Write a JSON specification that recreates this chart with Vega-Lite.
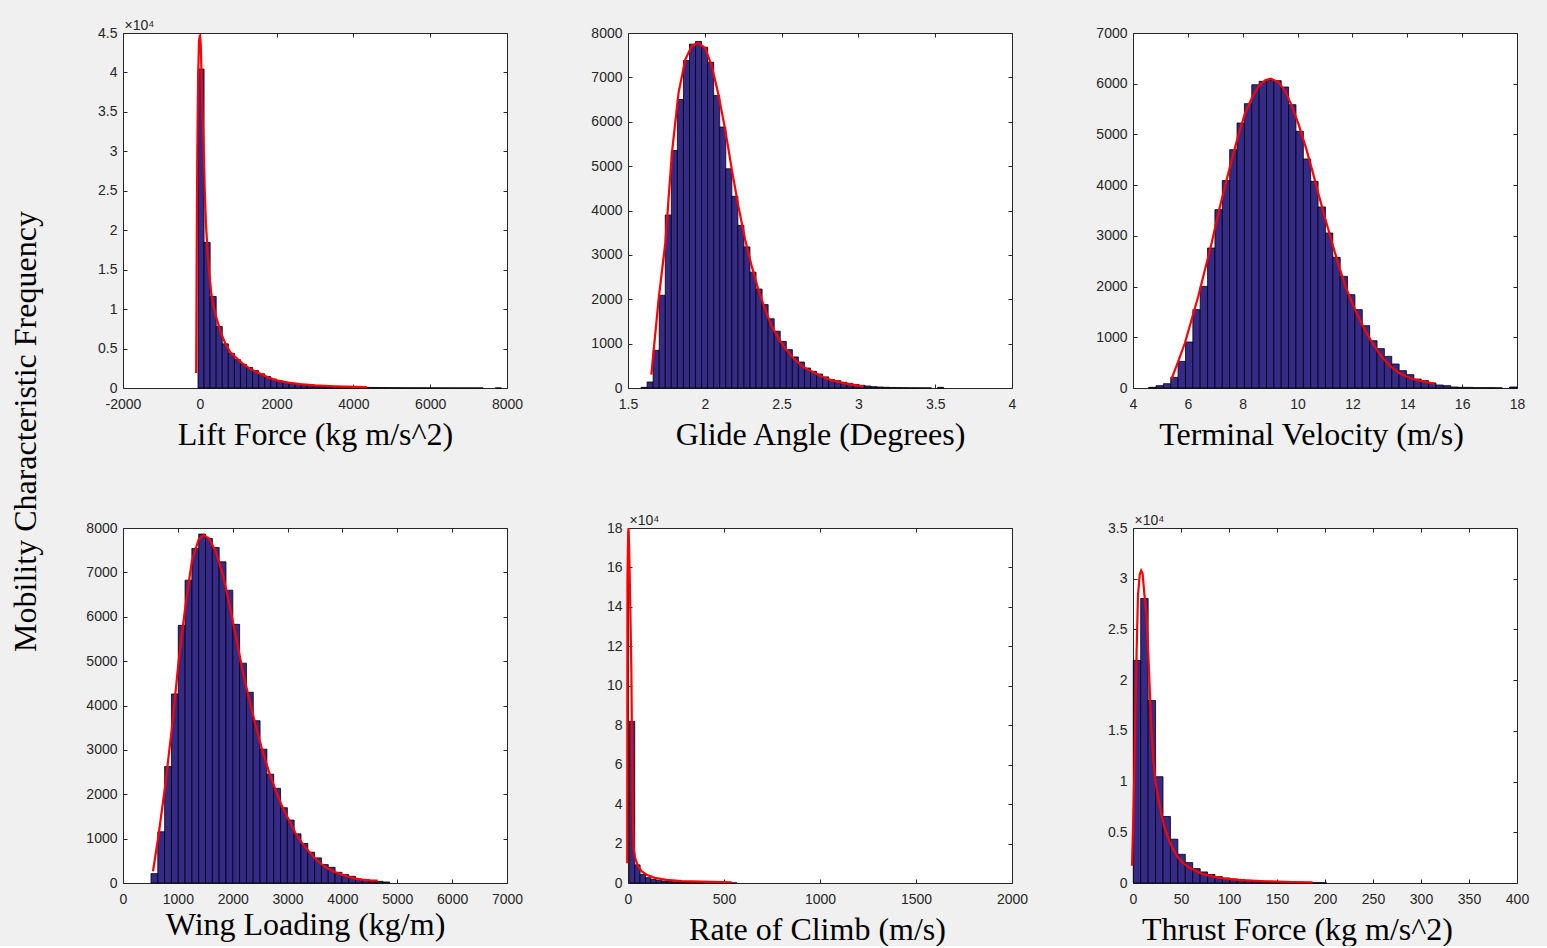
{
  "$schema": "https://vega.github.io/schema/vega-lite/v6.json",
  "background": "#f0f0f0",
  "padding": {"left": 10, "top": 17, "right": 19, "bottom": 0},
  "title": {"text": "Mobility Characteristic Frequency", "orient": "left", "anchor": "middle", "font": "Liberation Serif", "fontSize": 32, "fontWeight": "normal", "color": "#000000", "offset": 42, "dx": 50},
  "config": {
    "view": {"fill": "#ffffff", "stroke": "#262626", "strokeWidth": 1},
    "axis": {"domain": false, "grid": false, "ticks": true, "tickSize": 4, "offset": -4, "tickColor": "#262626", "tickWidth": 1, "labelFont": "Liberation Sans", "labelFontSize": 14, "labelColor": "#262626", "labelFlush": false, "labelOverlap": false, "labelPadding": 6, "titleFont": "Liberation Serif", "titleFontSize": 32, "titleFontWeight": "normal", "titleColor": "#000000"},
    "axisBottom": {"labelPadding": 9}
  },
  "columns": 3,
  "bounds": "flush",
  "spacing": {"row": 140, "column": 121},
  "datasets": {
    "lift_bars": [
      {"bin_start": -47, "bin_end": 111, "count": 40430}, {"bin_start": 111, "bin_end": 269, "count": 18460}, {"bin_start": 269, "bin_end": 427, "count": 11600}, {"bin_start": 427, "bin_end": 585, "count": 7800}, {"bin_start": 585, "bin_end": 743, "count": 5600}, {"bin_start": 743, "bin_end": 901, "count": 4400}, {"bin_start": 901, "bin_end": 1059, "count": 3600}, {"bin_start": 1059, "bin_end": 1217, "count": 3000}, {"bin_start": 1217, "bin_end": 1375, "count": 2600}, {"bin_start": 1375, "bin_end": 1533, "count": 2200}, {"bin_start": 1533, "bin_end": 1691, "count": 1800}, {"bin_start": 1691, "bin_end": 1849, "count": 1450}, {"bin_start": 1849, "bin_end": 2007, "count": 1120}, {"bin_start": 2007, "bin_end": 2165, "count": 900}, {"bin_start": 2165, "bin_end": 2323, "count": 730}, {"bin_start": 2323, "bin_end": 2481, "count": 600}, {"bin_start": 2481, "bin_end": 2639, "count": 490}, {"bin_start": 2639, "bin_end": 2797, "count": 405}, {"bin_start": 2797, "bin_end": 2955, "count": 340}, {"bin_start": 2955, "bin_end": 3113, "count": 285}, {"bin_start": 3113, "bin_end": 3271, "count": 240}, {"bin_start": 3271, "bin_end": 3429, "count": 205}, {"bin_start": 3429, "bin_end": 3587, "count": 175}, {"bin_start": 3587, "bin_end": 3745, "count": 150}, {"bin_start": 3745, "bin_end": 3903, "count": 130}, {"bin_start": 3903, "bin_end": 4061, "count": 112}, {"bin_start": 4061, "bin_end": 4219, "count": 97}, {"bin_start": 4219, "bin_end": 4377, "count": 85}, {"bin_start": 4377, "bin_end": 4535, "count": 74}, {"bin_start": 4535, "bin_end": 4693, "count": 64}, {"bin_start": 4693, "bin_end": 4851, "count": 56}, {"bin_start": 4851, "bin_end": 5009, "count": 49}, {"bin_start": 5009, "bin_end": 5167, "count": 43}, {"bin_start": 5167, "bin_end": 5325, "count": 37}, {"bin_start": 5325, "bin_end": 5483, "count": 32}, {"bin_start": 5483, "bin_end": 5641, "count": 28}, {"bin_start": 5641, "bin_end": 5799, "count": 24}, {"bin_start": 5799, "bin_end": 5957, "count": 21}, {"bin_start": 5957, "bin_end": 6115, "count": 18}, {"bin_start": 6115, "bin_end": 6273, "count": 16}, {"bin_start": 6273, "bin_end": 6431, "count": 14}, {"bin_start": 6431, "bin_end": 6589, "count": 12}, {"bin_start": 6589, "bin_end": 6747, "count": 10}, {"bin_start": 6747, "bin_end": 6905, "count": 6}, {"bin_start": 6905, "bin_end": 7063, "count": 8}, {"bin_start": 7063, "bin_end": 7221, "count": 7}, {"bin_start": 7221, "bin_end": 7379, "count": 6}, {"bin_start": 7695, "bin_end": 7853, "count": 5}
    ],
    "lift_fit": [
      {"value": -95, "fit": 1900}, {"value": -88, "fit": 9000}, {"value": -80, "fit": 18000}, {"value": -65, "fit": 30000}, {"value": -45, "fit": 39000}, {"value": -20, "fit": 44000}, {"value": 5, "fit": 44800}, {"value": 25, "fit": 43500}, {"value": 50, "fit": 39000}, {"value": 75, "fit": 34000}, {"value": 100, "fit": 31000}, {"value": 130, "fit": 25000}, {"value": 160, "fit": 20800}, {"value": 200, "fit": 17500}, {"value": 250, "fit": 14300}, {"value": 300, "fit": 12000}, {"value": 350, "fit": 10500}, {"value": 450, "fit": 8600}, {"value": 550, "fit": 7000}, {"value": 667, "fit": 5600}, {"value": 800, "fit": 4500}, {"value": 1000, "fit": 3600}, {"value": 1100, "fit": 3150}, {"value": 1300, "fit": 2450}, {"value": 1533, "fit": 1900}, {"value": 1800, "fit": 1300}, {"value": 2000, "fit": 970}, {"value": 2300, "fit": 690}, {"value": 2600, "fit": 500}, {"value": 3000, "fit": 330}, {"value": 3500, "fit": 210}, {"value": 4000, "fit": 140}, {"value": 4350, "fit": 110}
    ],
    "glide_bars": [
      {"bin_start": 1.585, "bin_end": 1.6244, "count": 15}, {"bin_start": 1.6244, "bin_end": 1.6638, "count": 135}, {"bin_start": 1.6638, "bin_end": 1.7032, "count": 850}, {"bin_start": 1.7032, "bin_end": 1.7426, "count": 2090}, {"bin_start": 1.7426, "bin_end": 1.782, "count": 3900}, {"bin_start": 1.782, "bin_end": 1.8214, "count": 5350}, {"bin_start": 1.8214, "bin_end": 1.8608, "count": 6500}, {"bin_start": 1.8608, "bin_end": 1.9002, "count": 7380}, {"bin_start": 1.9002, "bin_end": 1.9396, "count": 7750}, {"bin_start": 1.9396, "bin_end": 1.979, "count": 7810}, {"bin_start": 1.979, "bin_end": 2.0184, "count": 7680}, {"bin_start": 2.0184, "bin_end": 2.0578, "count": 7340}, {"bin_start": 2.0578, "bin_end": 2.0972, "count": 6590}, {"bin_start": 2.0972, "bin_end": 2.1366, "count": 5880}, {"bin_start": 2.1366, "bin_end": 2.176, "count": 4940}, {"bin_start": 2.176, "bin_end": 2.2154, "count": 4320}, {"bin_start": 2.2154, "bin_end": 2.2548, "count": 3665}, {"bin_start": 2.2548, "bin_end": 2.2942, "count": 3180}, {"bin_start": 2.2942, "bin_end": 2.3336, "count": 2610}, {"bin_start": 2.3336, "bin_end": 2.373, "count": 2230}, {"bin_start": 2.373, "bin_end": 2.4124, "count": 1880}, {"bin_start": 2.4124, "bin_end": 2.4518, "count": 1560}, {"bin_start": 2.4518, "bin_end": 2.4912, "count": 1280}, {"bin_start": 2.4912, "bin_end": 2.5306, "count": 1050}, {"bin_start": 2.5306, "bin_end": 2.57, "count": 865}, {"bin_start": 2.57, "bin_end": 2.6094, "count": 700}, {"bin_start": 2.6094, "bin_end": 2.6488, "count": 585}, {"bin_start": 2.6488, "bin_end": 2.6882, "count": 450}, {"bin_start": 2.6882, "bin_end": 2.7276, "count": 375}, {"bin_start": 2.7276, "bin_end": 2.767, "count": 315}, {"bin_start": 2.767, "bin_end": 2.8064, "count": 250}, {"bin_start": 2.8064, "bin_end": 2.8458, "count": 190}, {"bin_start": 2.8458, "bin_end": 2.8852, "count": 165}, {"bin_start": 2.8852, "bin_end": 2.9246, "count": 130}, {"bin_start": 2.9246, "bin_end": 2.964, "count": 105}, {"bin_start": 2.964, "bin_end": 3.0034, "count": 80}, {"bin_start": 3.0034, "bin_end": 3.0428, "count": 60}, {"bin_start": 3.0428, "bin_end": 3.0822, "count": 45}, {"bin_start": 3.0822, "bin_end": 3.1216, "count": 30}, {"bin_start": 3.1216, "bin_end": 3.161, "count": 22}, {"bin_start": 3.161, "bin_end": 3.2004, "count": 16}, {"bin_start": 3.2004, "bin_end": 3.2398, "count": 12}, {"bin_start": 3.2398, "bin_end": 3.2792, "count": 9}, {"bin_start": 3.2792, "bin_end": 3.3186, "count": 7}, {"bin_start": 3.3186, "bin_end": 3.358, "count": 5}, {"bin_start": 3.358, "bin_end": 3.3974, "count": 4}, {"bin_start": 3.3974, "bin_end": 3.4368, "count": 3}, {"bin_start": 3.4368, "bin_end": 3.4762, "count": 2}, {"bin_start": 3.5156, "bin_end": 3.555, "count": 15}
    ],
    "glide_fit": [
      {"value": 1.652, "fit": 300}, {"value": 1.699, "fit": 1990}, {"value": 1.743, "fit": 3270}, {"value": 1.786, "fit": 5300}, {"value": 1.829, "fit": 6650}, {"value": 1.873, "fit": 7400}, {"value": 1.916, "fit": 7715}, {"value": 1.959, "fit": 7775}, {"value": 2.003, "fit": 7660}, {"value": 2.046, "fit": 7250}, {"value": 2.089, "fit": 6610}, {"value": 2.133, "fit": 5820}, {"value": 2.176, "fit": 4920}, {"value": 2.219, "fit": 4090}, {"value": 2.263, "fit": 3340}, {"value": 2.306, "fit": 2740}, {"value": 2.349, "fit": 2215}, {"value": 2.393, "fit": 1765}, {"value": 2.436, "fit": 1390}, {"value": 2.479, "fit": 1125}, {"value": 2.523, "fit": 900}, {"value": 2.566, "fit": 715}, {"value": 2.609, "fit": 565}, {"value": 2.653, "fit": 450}, {"value": 2.696, "fit": 375}, {"value": 2.739, "fit": 300}, {"value": 2.783, "fit": 225}, {"value": 2.826, "fit": 173}, {"value": 2.869, "fit": 135}, {"value": 2.913, "fit": 105}, {"value": 2.956, "fit": 75}, {"value": 2.999, "fit": 53}, {"value": 3.032, "fit": 38}
    ],
    "velocity_bars": [
      {"bin_start": 4.57, "bin_end": 4.839, "count": 13}, {"bin_start": 4.839, "bin_end": 5.107, "count": 46}, {"bin_start": 5.107, "bin_end": 5.376, "count": 85}, {"bin_start": 5.376, "bin_end": 5.644, "count": 210}, {"bin_start": 5.644, "bin_end": 5.913, "count": 525}, {"bin_start": 5.913, "bin_end": 6.182, "count": 907}, {"bin_start": 6.182, "bin_end": 6.45, "count": 1545}, {"bin_start": 6.45, "bin_end": 6.719, "count": 2005}, {"bin_start": 6.719, "bin_end": 6.987, "count": 2760}, {"bin_start": 6.987, "bin_end": 7.256, "count": 3517}, {"bin_start": 7.256, "bin_end": 7.525, "count": 4090}, {"bin_start": 7.525, "bin_end": 7.793, "count": 4700}, {"bin_start": 7.793, "bin_end": 8.062, "count": 5225}, {"bin_start": 8.062, "bin_end": 8.33, "count": 5607}, {"bin_start": 8.33, "bin_end": 8.599, "count": 5980}, {"bin_start": 8.599, "bin_end": 8.868, "count": 6047}, {"bin_start": 8.868, "bin_end": 9.136, "count": 6067}, {"bin_start": 9.136, "bin_end": 9.405, "count": 6060}, {"bin_start": 9.405, "bin_end": 9.673, "count": 5935}, {"bin_start": 9.673, "bin_end": 9.942, "count": 5587}, {"bin_start": 9.942, "bin_end": 10.211, "count": 5061}, {"bin_start": 10.211, "bin_end": 10.479, "count": 4516}, {"bin_start": 10.479, "bin_end": 10.748, "count": 4075}, {"bin_start": 10.748, "bin_end": 11.016, "count": 3570}, {"bin_start": 11.016, "bin_end": 11.285, "count": 3056}, {"bin_start": 11.285, "bin_end": 11.554, "count": 2577}, {"bin_start": 11.554, "bin_end": 11.822, "count": 2202}, {"bin_start": 11.822, "bin_end": 12.091, "count": 1840}, {"bin_start": 12.091, "bin_end": 12.359, "count": 1545}, {"bin_start": 12.359, "bin_end": 12.628, "count": 1229}, {"bin_start": 12.628, "bin_end": 12.897, "count": 933}, {"bin_start": 12.897, "bin_end": 13.165, "count": 776}, {"bin_start": 13.165, "bin_end": 13.434, "count": 624}, {"bin_start": 13.434, "bin_end": 13.702, "count": 473}, {"bin_start": 13.702, "bin_end": 13.971, "count": 342}, {"bin_start": 13.971, "bin_end": 14.24, "count": 263}, {"bin_start": 14.24, "bin_end": 14.508, "count": 177}, {"bin_start": 14.508, "bin_end": 14.777, "count": 145}, {"bin_start": 14.777, "bin_end": 15.045, "count": 99}, {"bin_start": 15.045, "bin_end": 15.314, "count": 59}, {"bin_start": 15.314, "bin_end": 15.583, "count": 46}, {"bin_start": 15.583, "bin_end": 15.851, "count": 20}, {"bin_start": 15.851, "bin_end": 16.12, "count": 13}, {"bin_start": 16.12, "bin_end": 16.388, "count": 13}, {"bin_start": 16.388, "bin_end": 16.657, "count": 7}, {"bin_start": 16.657, "bin_end": 16.926, "count": 7}, {"bin_start": 16.926, "bin_end": 17.194, "count": 7}, {"bin_start": 17.194, "bin_end": 17.463, "count": 3}, {"bin_start": 17.731, "bin_end": 18.0, "count": 20}
    ],
    "velocity_fit": [
      {"value": 5.404, "fit": 177}, {"value": 5.648, "fit": 526}, {"value": 5.892, "fit": 887}, {"value": 6.136, "fit": 1347}, {"value": 6.38, "fit": 1808}, {"value": 6.624, "fit": 2333}, {"value": 6.868, "fit": 2859}, {"value": 7.112, "fit": 3451}, {"value": 7.356, "fit": 3977}, {"value": 7.6, "fit": 4503}, {"value": 7.845, "fit": 4995}, {"value": 8.089, "fit": 5423}, {"value": 8.333, "fit": 5718}, {"value": 8.577, "fit": 5948}, {"value": 8.821, "fit": 6067}, {"value": 9.029, "fit": 6100}, {"value": 9.31, "fit": 6027}, {"value": 9.554, "fit": 5850}, {"value": 9.798, "fit": 5554}, {"value": 10.04, "fit": 5193}, {"value": 10.29, "fit": 4765}, {"value": 10.53, "fit": 4305}, {"value": 10.77, "fit": 3812}, {"value": 11.02, "fit": 3319}, {"value": 11.26, "fit": 2859}, {"value": 11.51, "fit": 2399}, {"value": 11.75, "fit": 2005}, {"value": 11.99, "fit": 1676}, {"value": 12.24, "fit": 1380}, {"value": 12.48, "fit": 1117}, {"value": 12.73, "fit": 887}, {"value": 12.97, "fit": 690}, {"value": 13.21, "fit": 526}, {"value": 13.46, "fit": 394}, {"value": 13.7, "fit": 296}, {"value": 13.95, "fit": 230}, {"value": 14.19, "fit": 177}, {"value": 14.44, "fit": 145}, {"value": 14.68, "fit": 118}, {"value": 14.98, "fit": 85}
    ],
    "wing_bars": [
      {"bin_start": 510, "bin_end": 634.3, "count": 211}, {"bin_start": 634.3, "bin_end": 758.6, "count": 1154}, {"bin_start": 758.6, "bin_end": 882.9, "count": 2624}, {"bin_start": 882.9, "bin_end": 1007.2, "count": 4260}, {"bin_start": 1007.2, "bin_end": 1131.5, "count": 5806}, {"bin_start": 1131.5, "bin_end": 1255.8, "count": 6824}, {"bin_start": 1255.8, "bin_end": 1380.1, "count": 7540}, {"bin_start": 1380.1, "bin_end": 1504.4, "count": 7864}, {"bin_start": 1504.4, "bin_end": 1628.7, "count": 7766}, {"bin_start": 1628.7, "bin_end": 1753, "count": 7562}, {"bin_start": 1753, "bin_end": 1877.3, "count": 7238}, {"bin_start": 1877.3, "bin_end": 2001.6, "count": 6598}, {"bin_start": 2001.6, "bin_end": 2125.9, "count": 5829}, {"bin_start": 2125.9, "bin_end": 2250.2, "count": 4954}, {"bin_start": 2250.2, "bin_end": 2374.5, "count": 4298}, {"bin_start": 2374.5, "bin_end": 2498.8, "count": 3657}, {"bin_start": 2498.8, "bin_end": 2623.1, "count": 3016}, {"bin_start": 2623.1, "bin_end": 2747.4, "count": 2451}, {"bin_start": 2747.4, "bin_end": 2871.7, "count": 2134}, {"bin_start": 2871.7, "bin_end": 2996, "count": 1697}, {"bin_start": 2996, "bin_end": 3120.3, "count": 1418}, {"bin_start": 3120.3, "bin_end": 3244.6, "count": 1108}, {"bin_start": 3244.6, "bin_end": 3368.9, "count": 890}, {"bin_start": 3368.9, "bin_end": 3493.2, "count": 694}, {"bin_start": 3493.2, "bin_end": 3617.5, "count": 566}, {"bin_start": 3617.5, "bin_end": 3741.8, "count": 415}, {"bin_start": 3741.8, "bin_end": 3866.1, "count": 354}, {"bin_start": 3866.1, "bin_end": 3990.4, "count": 241}, {"bin_start": 3990.4, "bin_end": 4114.7, "count": 189}, {"bin_start": 4114.7, "bin_end": 4239, "count": 151}, {"bin_start": 4239, "bin_end": 4363.3, "count": 90}, {"bin_start": 4363.3, "bin_end": 4487.6, "count": 68}, {"bin_start": 4487.6, "bin_end": 4611.9, "count": 53}, {"bin_start": 4611.9, "bin_end": 4736.2, "count": 38}, {"bin_start": 4736.2, "bin_end": 4860.5, "count": 23}
    ],
    "wing_fit": [
      {"value": 547, "fit": 264}, {"value": 650, "fit": 1093}, {"value": 772, "fit": 2224}, {"value": 893, "fit": 3506}, {"value": 1015, "fit": 5014}, {"value": 1136, "fit": 6220}, {"value": 1258, "fit": 7276}, {"value": 1379, "fit": 7744}, {"value": 1470, "fit": 7842}, {"value": 1562, "fit": 7766}, {"value": 1683, "fit": 7502}, {"value": 1805, "fit": 7012}, {"value": 1926, "fit": 6371}, {"value": 2048, "fit": 5617}, {"value": 2169, "fit": 4863}, {"value": 2291, "fit": 4185}, {"value": 2412, "fit": 3581}, {"value": 2534, "fit": 3016}, {"value": 2655, "fit": 2526}, {"value": 2777, "fit": 2111}, {"value": 2899, "fit": 1734}, {"value": 3020, "fit": 1433}, {"value": 3142, "fit": 1131}, {"value": 3263, "fit": 905}, {"value": 3385, "fit": 716}, {"value": 3506, "fit": 550}, {"value": 3628, "fit": 415}, {"value": 3749, "fit": 317}, {"value": 3871, "fit": 241}, {"value": 3992, "fit": 189}, {"value": 4114, "fit": 136}, {"value": 4235, "fit": 98}, {"value": 4357, "fit": 75}, {"value": 4509, "fit": 60}, {"value": 4642, "fit": 53}
    ],
    "climb_bars": [
      {"bin_start": 7, "bin_end": 35, "count": 82000}, {"bin_start": 35, "bin_end": 63, "count": 9200}, {"bin_start": 63, "bin_end": 91, "count": 4300}, {"bin_start": 91, "bin_end": 119, "count": 2700}, {"bin_start": 119, "bin_end": 147, "count": 1850}, {"bin_start": 147, "bin_end": 175, "count": 1350}, {"bin_start": 175, "bin_end": 203, "count": 1000}, {"bin_start": 203, "bin_end": 231, "count": 760}, {"bin_start": 231, "bin_end": 259, "count": 590}, {"bin_start": 259, "bin_end": 287, "count": 460}, {"bin_start": 287, "bin_end": 315, "count": 370}, {"bin_start": 315, "bin_end": 343, "count": 300}, {"bin_start": 343, "bin_end": 371, "count": 240}, {"bin_start": 371, "bin_end": 399, "count": 195}, {"bin_start": 399, "bin_end": 427, "count": 160}, {"bin_start": 427, "bin_end": 455, "count": 130}, {"bin_start": 455, "bin_end": 483, "count": 105}, {"bin_start": 483, "bin_end": 511, "count": 85}, {"bin_start": 511, "bin_end": 539, "count": 70}, {"bin_start": 539, "bin_end": 567, "count": 55}
    ],
    "climb_fit": [
      {"value": -4, "fit": 10000}, {"value": -3, "fit": 153000}, {"value": 1, "fit": 178000}, {"value": 3, "fit": 180000}, {"value": 6, "fit": 170000}, {"value": 10, "fit": 150000}, {"value": 14, "fit": 128000}, {"value": 17.5, "fit": 108000}, {"value": 20, "fit": 80000}, {"value": 23, "fit": 50000}, {"value": 26, "fit": 30000}, {"value": 30, "fit": 17000}, {"value": 38, "fit": 12500}, {"value": 50, "fit": 9000}, {"value": 70, "fit": 6000}, {"value": 100, "fit": 4000}, {"value": 140, "fit": 2600}, {"value": 200, "fit": 1600}, {"value": 280, "fit": 1000}, {"value": 380, "fit": 650}, {"value": 540, "fit": 380}
    ],
    "thrust_bars": [
      {"bin_start": 0.3, "bin_end": 8.04, "count": 21950}, {"bin_start": 8.04, "bin_end": 15.78, "count": 28050}, {"bin_start": 15.78, "bin_end": 23.52, "count": 17990}, {"bin_start": 23.52, "bin_end": 31.26, "count": 10480}, {"bin_start": 31.26, "bin_end": 39.0, "count": 6560}, {"bin_start": 39.0, "bin_end": 46.74, "count": 4320}, {"bin_start": 46.74, "bin_end": 54.48, "count": 2830}, {"bin_start": 54.48, "bin_end": 62.22, "count": 2010}, {"bin_start": 62.22, "bin_end": 69.96, "count": 1420}, {"bin_start": 69.96, "bin_end": 77.7, "count": 1090}, {"bin_start": 77.7, "bin_end": 85.44, "count": 830}, {"bin_start": 85.44, "bin_end": 93.18, "count": 630}, {"bin_start": 93.18, "bin_end": 100.92, "count": 495}, {"bin_start": 100.92, "bin_end": 108.66, "count": 395}, {"bin_start": 108.66, "bin_end": 116.4, "count": 330}, {"bin_start": 116.4, "bin_end": 124.14, "count": 260}, {"bin_start": 124.14, "bin_end": 131.88, "count": 200}, {"bin_start": 131.88, "bin_end": 139.62, "count": 165}, {"bin_start": 139.62, "bin_end": 147.36, "count": 130}, {"bin_start": 147.36, "bin_end": 155.1, "count": 105}, {"bin_start": 155.1, "bin_end": 162.84, "count": 85}, {"bin_start": 162.84, "bin_end": 170.58, "count": 70}, {"bin_start": 170.58, "bin_end": 178.32, "count": 55}, {"bin_start": 178.32, "bin_end": 186.06, "count": 45}, {"bin_start": 186.06, "bin_end": 193.8, "count": 36}, {"bin_start": 193.8, "bin_end": 201.54, "count": 30}
    ],
    "thrust_fit": [
      {"value": -1, "fit": 1700}, {"value": 0, "fit": 5300}, {"value": 1.2, "fit": 10000}, {"value": 2.4, "fit": 16400}, {"value": 3.8, "fit": 23000}, {"value": 5.2, "fit": 28400}, {"value": 7, "fit": 30400}, {"value": 8.5, "fit": 30800}, {"value": 10, "fit": 30500}, {"value": 11.8, "fit": 28500}, {"value": 14, "fit": 26500}, {"value": 16, "fit": 22500}, {"value": 17.5, "fit": 19000}, {"value": 19, "fit": 15500}, {"value": 21, "fit": 12300}, {"value": 23.5, "fit": 10000}, {"value": 26.2, "fit": 8400}, {"value": 30, "fit": 6600}, {"value": 33.1, "fit": 5400}, {"value": 38, "fit": 4100}, {"value": 42, "fit": 3300}, {"value": 47, "fit": 2500}, {"value": 52, "fit": 2000}, {"value": 58, "fit": 1550}, {"value": 65, "fit": 1200}, {"value": 72, "fit": 900}, {"value": 82, "fit": 650}, {"value": 96, "fit": 430}, {"value": 113, "fit": 280}, {"value": 138, "fit": 170}, {"value": 166, "fit": 100}, {"value": 187, "fit": 66}
    ]
  },
  "concat": [
    {
      "width": 384, "height": 355,
      "layer": [
        {"data": {"name": "lift_bars"}, "mark": {"type": "bar", "fill": "#352a87", "stroke": "#000000", "strokeWidth": 0.8},
         "encoding": {
           "x": {"field": "bin_start", "type": "quantitative", "scale": {"domain": [-2000, 8000], "nice": false, "zero": false}, "axis": {"values": [-2000, 0, 2000, 4000, 6000, 8000], "labelExpr": "'' + datum.value", "title": "Lift Force (kg m/s^2)", "titleX": 192, "titleY": 60, "titleAlign": "center", "titleBaseline": "alphabetic"}},
           "x2": {"field": "bin_end"},
           "y": {"field": "count", "type": "quantitative", "scale": {"domain": [0, 45000], "nice": false}, "axis": {"values": [0, 5000, 10000, 15000, 20000, 25000, 30000, 35000, 40000, 45000], "labelExpr": "'' + datum.value / 10000", "title": "×10⁴", "titleAngle": 0, "titleX": -3, "titleY": -4, "titleAlign": "left", "titleBaseline": "alphabetic", "titleFont": "Liberation Sans", "titleFontSize": 14, "titleColor": "#262626"}},
           "y2": {"datum": 0}
         }},
        {"data": {"name": "lift_fit"}, "mark": {"type": "line", "stroke": "#ff0000", "strokeWidth": 2.2},
         "encoding": {
           "x": {"field": "value", "type": "quantitative", "scale": {"domain": [-2000, 8000], "nice": false, "zero": false}, "axis": {"orient": "top", "values": [-2000, 0, 2000, 4000, 6000, 8000], "labels": false, "title": null}},
           "y": {"field": "fit", "type": "quantitative", "scale": {"domain": [0, 45000], "nice": false}, "axis": {"orient": "right", "values": [0, 5000, 10000, 15000, 20000, 25000, 30000, 35000, 40000, 45000], "labels": false, "title": null}}
         }}
      ],
      "resolve": {"axis": {"x": "independent", "y": "independent"}}
    },
    {
      "width": 384, "height": 355,
      "layer": [
        {"data": {"name": "glide_bars"}, "mark": {"type": "bar", "fill": "#352a87", "stroke": "#000000", "strokeWidth": 0.8},
         "encoding": {
           "x": {"field": "bin_start", "type": "quantitative", "scale": {"domain": [1.5, 4], "nice": false, "zero": false}, "axis": {"values": [1.5, 2, 2.5, 3, 3.5, 4], "labelExpr": "'' + datum.value", "title": "Glide Angle (Degrees)", "titleX": 192, "titleY": 60, "titleAlign": "center", "titleBaseline": "alphabetic"}},
           "x2": {"field": "bin_end"},
           "y": {"field": "count", "type": "quantitative", "scale": {"domain": [0, 8000], "nice": false}, "axis": {"values": [0, 1000, 2000, 3000, 4000, 5000, 6000, 7000, 8000], "labelExpr": "'' + datum.value", "title": null}},
           "y2": {"datum": 0}
         }},
        {"data": {"name": "glide_fit"}, "mark": {"type": "line", "stroke": "#ff0000", "strokeWidth": 2.2},
         "encoding": {
           "x": {"field": "value", "type": "quantitative", "scale": {"domain": [1.5, 4], "nice": false, "zero": false}, "axis": {"orient": "top", "values": [1.5, 2, 2.5, 3, 3.5, 4], "labels": false, "title": null}},
           "y": {"field": "fit", "type": "quantitative", "scale": {"domain": [0, 8000], "nice": false}, "axis": {"orient": "right", "values": [0, 1000, 2000, 3000, 4000, 5000, 6000, 7000, 8000], "labels": false, "title": null}}
         }}
      ],
      "resolve": {"axis": {"x": "independent", "y": "independent"}}
    },
    {
      "width": 384, "height": 355,
      "layer": [
        {"data": {"name": "velocity_bars"}, "mark": {"type": "bar", "fill": "#352a87", "stroke": "#000000", "strokeWidth": 0.8},
         "encoding": {
           "x": {"field": "bin_start", "type": "quantitative", "scale": {"domain": [4, 18], "nice": false, "zero": false}, "axis": {"values": [4, 6, 8, 10, 12, 14, 16, 18], "labelExpr": "'' + datum.value", "title": "Terminal Velocity (m/s)", "titleX": 178, "titleY": 60, "titleAlign": "center", "titleBaseline": "alphabetic"}},
           "x2": {"field": "bin_end"},
           "y": {"field": "count", "type": "quantitative", "scale": {"domain": [0, 7000], "nice": false}, "axis": {"values": [0, 1000, 2000, 3000, 4000, 5000, 6000, 7000], "labelExpr": "'' + datum.value", "title": null}},
           "y2": {"datum": 0}
         }},
        {"data": {"name": "velocity_fit"}, "mark": {"type": "line", "stroke": "#ff0000", "strokeWidth": 2.2},
         "encoding": {
           "x": {"field": "value", "type": "quantitative", "scale": {"domain": [4, 18], "nice": false, "zero": false}, "axis": {"orient": "top", "values": [4, 6, 8, 10, 12, 14, 16, 18], "labels": false, "title": null}},
           "y": {"field": "fit", "type": "quantitative", "scale": {"domain": [0, 7000], "nice": false}, "axis": {"orient": "right", "values": [0, 1000, 2000, 3000, 4000, 5000, 6000, 7000], "labels": false, "title": null}}
         }}
      ],
      "resolve": {"axis": {"x": "independent", "y": "independent"}}
    },
    {
      "width": 384, "height": 355,
      "layer": [
        {"data": {"name": "wing_bars"}, "mark": {"type": "bar", "fill": "#352a87", "stroke": "#000000", "strokeWidth": 0.8},
         "encoding": {
           "x": {"field": "bin_start", "type": "quantitative", "scale": {"domain": [0, 7000], "nice": false, "zero": false}, "axis": {"values": [0, 1000, 2000, 3000, 4000, 5000, 6000, 7000], "labelExpr": "'' + datum.value", "title": "Wing Loading (kg/m)", "titleX": 182, "titleY": 55, "titleAlign": "center", "titleBaseline": "alphabetic"}},
           "x2": {"field": "bin_end"},
           "y": {"field": "count", "type": "quantitative", "scale": {"domain": [0, 8000], "nice": false}, "axis": {"values": [0, 1000, 2000, 3000, 4000, 5000, 6000, 7000, 8000], "labelExpr": "'' + datum.value", "title": null}},
           "y2": {"datum": 0}
         }},
        {"data": {"name": "wing_fit"}, "mark": {"type": "line", "stroke": "#ff0000", "strokeWidth": 2.2},
         "encoding": {
           "x": {"field": "value", "type": "quantitative", "scale": {"domain": [0, 7000], "nice": false, "zero": false}, "axis": {"orient": "top", "values": [0, 1000, 2000, 3000, 4000, 5000, 6000, 7000], "labels": false, "title": null}},
           "y": {"field": "fit", "type": "quantitative", "scale": {"domain": [0, 8000], "nice": false}, "axis": {"orient": "right", "values": [0, 1000, 2000, 3000, 4000, 5000, 6000, 7000, 8000], "labels": false, "title": null}}
         }}
      ],
      "resolve": {"axis": {"x": "independent", "y": "independent"}}
    },
    {
      "width": 384, "height": 355,
      "layer": [
        {"data": {"name": "climb_bars"}, "mark": {"type": "bar", "fill": "#352a87", "stroke": "#000000", "strokeWidth": 0.8},
         "encoding": {
           "x": {"field": "bin_start", "type": "quantitative", "scale": {"domain": [0, 2000], "nice": false, "zero": false}, "axis": {"values": [0, 500, 1000, 1500, 2000], "labelExpr": "'' + datum.value", "title": "Rate of Climb (m/s)", "titleX": 189, "titleY": 60, "titleAlign": "center", "titleBaseline": "alphabetic"}},
           "x2": {"field": "bin_end"},
           "y": {"field": "count", "type": "quantitative", "scale": {"domain": [0, 180000], "nice": false}, "axis": {"values": [0, 20000, 40000, 60000, 80000, 100000, 120000, 140000, 160000, 180000], "labelExpr": "'' + datum.value / 10000", "title": "×10⁴", "titleAngle": 0, "titleX": -3, "titleY": -4, "titleAlign": "left", "titleBaseline": "alphabetic", "titleFont": "Liberation Sans", "titleFontSize": 14, "titleColor": "#262626"}},
           "y2": {"datum": 0}
         }},
        {"data": {"name": "climb_fit"}, "mark": {"type": "line", "stroke": "#ff0000", "strokeWidth": 2.2},
         "encoding": {
           "x": {"field": "value", "type": "quantitative", "scale": {"domain": [0, 2000], "nice": false, "zero": false}, "axis": {"orient": "top", "values": [0, 500, 1000, 1500, 2000], "labels": false, "title": null}},
           "y": {"field": "fit", "type": "quantitative", "scale": {"domain": [0, 180000], "nice": false}, "axis": {"orient": "right", "values": [0, 20000, 40000, 60000, 80000, 100000, 120000, 140000, 160000, 180000], "labels": false, "title": null}}
         }}
      ],
      "resolve": {"axis": {"x": "independent", "y": "independent"}}
    },
    {
      "width": 384, "height": 355,
      "layer": [
        {"data": {"name": "thrust_bars"}, "mark": {"type": "bar", "fill": "#352a87", "stroke": "#000000", "strokeWidth": 0.8},
         "encoding": {
           "x": {"field": "bin_start", "type": "quantitative", "scale": {"domain": [0, 400], "nice": false, "zero": false}, "axis": {"values": [0, 50, 100, 150, 200, 250, 300, 350, 400], "labelExpr": "'' + datum.value", "title": "Thrust Force (kg m/s^2)", "titleX": 164, "titleY": 60, "titleAlign": "center", "titleBaseline": "alphabetic"}},
           "x2": {"field": "bin_end"},
           "y": {"field": "count", "type": "quantitative", "scale": {"domain": [0, 35000], "nice": false}, "axis": {"values": [0, 5000, 10000, 15000, 20000, 25000, 30000, 35000], "labelExpr": "'' + datum.value / 10000", "title": "×10⁴", "titleAngle": 0, "titleX": -3, "titleY": -4, "titleAlign": "left", "titleBaseline": "alphabetic", "titleFont": "Liberation Sans", "titleFontSize": 14, "titleColor": "#262626"}},
           "y2": {"datum": 0}
         }},
        {"data": {"name": "thrust_fit"}, "mark": {"type": "line", "stroke": "#ff0000", "strokeWidth": 2.2},
         "encoding": {
           "x": {"field": "value", "type": "quantitative", "scale": {"domain": [0, 400], "nice": false, "zero": false}, "axis": {"orient": "top", "values": [0, 50, 100, 150, 200, 250, 300, 350, 400], "labels": false, "title": null}},
           "y": {"field": "fit", "type": "quantitative", "scale": {"domain": [0, 35000], "nice": false}, "axis": {"orient": "right", "values": [0, 5000, 10000, 15000, 20000, 25000, 30000, 35000], "labels": false, "title": null}}
         }}
      ],
      "resolve": {"axis": {"x": "independent", "y": "independent"}}
    }
  ]
}
